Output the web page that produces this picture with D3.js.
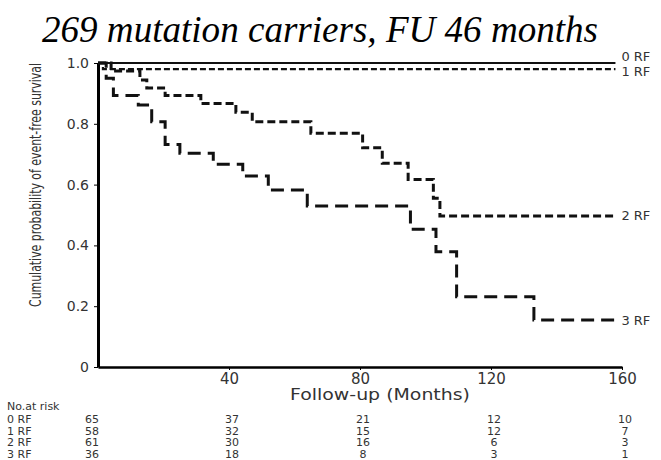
<!DOCTYPE html>
<html>
<head>
<meta charset="utf-8">
<script src="https://cdn.jsdelivr.net/npm/d3@7"></script>
<style>
  body { margin: 0; background: #fff; }
  svg { display: block; }
</style>
</head>
<body>
<svg></svg>
<script>
const svgWidth = 661;
const svgHeight = 460;

// Kaplan-Meier curves (months, survival)
const rf0Months = [0, 158];
const rf0Surv = [1, 1];
const rf1Months = [0, 1.5, 158];
const rf1Surv = [1, 0.98, 0.98];
const rf2Months = [0, 4, 12.8, 14.9, 20.5, 31.4, 42.1, 47.1, 65, 80.8, 86.8, 94.7, 102.4, 104.4, 158];
const rf2Surv = [1, 0.974, 0.944, 0.918, 0.893, 0.867, 0.838, 0.807, 0.769, 0.721, 0.67, 0.617, 0.555, 0.497, 0.497];
const rf3Months = [0, 2.5, 4.7, 12.3, 16.4, 20.5, 25, 35.2, 44.2, 52, 63.9, 95.4, 103.2, 109.5, 133.1, 158];
const rf3Surv = [1, 0.95, 0.893, 0.862, 0.807, 0.732, 0.703, 0.667, 0.628, 0.582, 0.53, 0.453, 0.379, 0.231, 0.155, 0.155];

const groupNames = ["0 RF", "1 RF", "2 RF", "3 RF"];
const xTicks = [40, 80, 120, 160];
const yTicks = [0, 0.2, 0.4, 0.6, 0.8, 1.0];

// number at risk table
const riskMonths = [0, 40, 80, 120, 160];
const risk0 = [65, 37, 21, 12, 10];
const risk1 = [58, 32, 15, 12, 7];
const risk2 = [61, 30, 16, 6, 3];
const risk3 = [36, 18, 8, 3, 1];

const svg = d3.select("svg")
  .attr("width", svgWidth)
  .attr("height", svgHeight);

const x = d3.scaleLinear().domain([0, 160]).range([98, 622]);
const y = d3.scaleLinear().domain([0, 1]).range([367, 63]);

// title
svg.append("text")
  .attr("x", 42)
  .attr("y", 42)
  .attr("textLength", 556)
  .attr("lengthAdjust", "spacingAndGlyphs")
  .style("font-family", "'Liberation Serif', 'Times New Roman', serif")
  .style("font-style", "italic")
  .style("font-size", "37px")
  .text("269 mutation carriers, FU 46 months");

// axes
const yAxis = d3.axisLeft(y)
  .tickValues(yTicks)
  .tickSize(4)
  .tickSizeOuter(0)
  .tickPadding(5)
  .tickFormat(d => d === 0 ? "0" : d.toFixed(1));

const gy = svg.append("g")
  .attr("transform", "translate(" + x(0) + ",0)")
  .call(yAxis);
gy.select(".domain").attr("stroke-width", 3);
gy.selectAll("text")
  .style("font-family", "'DejaVu Sans', sans-serif")
  .style("font-size", "14px")
  .attr("fill", "#333");

const xAxis = d3.axisBottom(x)
  .tickValues(xTicks)
  .tickSize(3)
  .tickSizeOuter(0)
  .tickPadding(3);

const gx = svg.append("g")
  .attr("transform", "translate(0," + y(0) + ")")
  .call(xAxis);
gx.select(".domain").attr("stroke-width", 2.5);
gx.selectAll("text")
  .style("font-family", "'DejaVu Sans', sans-serif")
  .style("font-size", "15px")
  .attr("fill", "#333");

// axis titles - y title squeezed with a scale so it spans 1.0 .. 0.2
const yTitle = svg.append("text")
  .attr("text-anchor", "middle")
  .style("font-family", "'DejaVu Sans Condensed', 'DejaVu Sans', sans-serif")
  .style("font-size", "16px")
  .attr("fill", "#333")
  .text("Cumulative probability of event-free survival");
const naturalLen = yTitle.node().getComputedTextLength();
const squeeze = 244 / naturalLen;
yTitle.attr("transform", "translate(41,185) rotate(-90) scale(" + squeeze + ",1)");

svg.append("text")
  .attr("x", 380)
  .attr("y", 400)
  .attr("text-anchor", "middle")
  .attr("textLength", 180)
  .attr("lengthAdjust", "spacingAndGlyphs")
  .style("font-family", "'DejaVu Sans', sans-serif")
  .style("font-size", "15px")
  .attr("fill", "#333")
  .text("Follow-up (Months)");

// survival curves
const curves = [
  {name: groupNames[0], months: rf0Months, surv: rf0Surv, dash: null, width: 2, labelDy: -2},
  {name: groupNames[1], months: rf1Months, surv: rf1Surv, dash: "6,3", width: 2.2, labelDy: 7},
  {name: groupNames[2], months: rf2Months, surv: rf2Surv, dash: "8,4", width: 3, labelDy: 4},
  {name: groupNames[3], months: rf3Months, surv: rf3Surv, dash: "13,7", width: 3, labelDy: 5}
];

const line = d3.line()
  .x(d => x(d[0]))
  .y(d => y(d[1]))
  .curve(d3.curveStepAfter);

curves.forEach(function(c) {
  const pts = c.months.map((m, i) => [m, c.surv[i]]);
  svg.append("path")
    .attr("d", line(pts))
    .attr("fill", "none")
    .attr("stroke", "#111")
    .attr("stroke-width", c.width)
    .attr("stroke-dasharray", c.dash);

  const last = pts[pts.length - 1];
  svg.append("text")
    .attr("x", x(last[0]) + 6)
    .attr("y", y(last[1]) + c.labelDy)
    .style("font-family", "'DejaVu Sans', sans-serif")
    .style("font-size", "13px")
    .attr("fill", "#333")
    .text(c.name);
});

// number at risk
const tableFont = "'DejaVu Sans', sans-serif";
svg.append("text")
  .attr("x", 7)
  .attr("y", 410)
  .style("font-family", tableFont)
  .style("font-size", "11px")
  .attr("fill", "#333")
  .text("No.at risk");

const riskRows = [risk0, risk1, risk2, risk3];
riskRows.forEach(function(row, r) {
  const rowY = 423 + r * 11.5;
  svg.append("text")
    .attr("x", 7)
    .attr("y", rowY)
    .style("font-family", tableFont)
    .style("font-size", "11px")
    .attr("fill", "#333")
    .text(groupNames[r]);
  svg.selectAll(null)
    .data(row)
    .enter()
    .append("text")
    .attr("x", (d, i) => riskMonths[i] === 0 ? x(0) - 6 : x(riskMonths[i]) + 3)
    .attr("y", rowY)
    .attr("text-anchor", "middle")
    .style("font-family", tableFont)
    .style("font-size", "11px")
    .attr("fill", "#333")
    .text(d => d);
});
</script>
</body>
</html>
